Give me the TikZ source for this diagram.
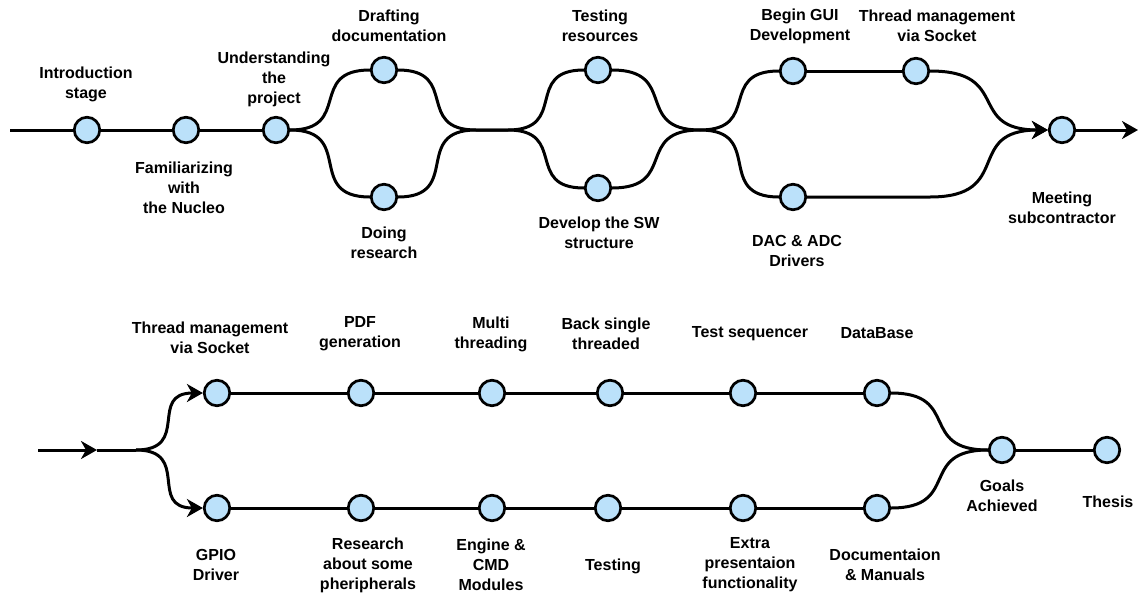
\documentclass[tikz,border=0pt]{standalone}
\usepackage{fontspec}
\setmainfont{Liberation Sans}
\usetikzlibrary{arrows.meta}
\definecolor{stagefill}{RGB}{187,225,250}
\begin{document}
\begin{tikzpicture}[x=1pt,y=-1pt,
  stage/.style={circle,draw=black,line width=2.7pt,fill=stagefill,minimum size=25.5pt,inner sep=0pt},
  lbl/.style={align=center,font=\bfseries\fontsize{16}{20}\selectfont,inner sep=0pt},
  flow/.style={line width=3pt},
  scurve/.style={out=0,in=180,looseness=1.6},
  tip/.style={-{Stealth[length=16pt,width=18pt,inset=5pt]}}
]
\useasboundingbox (0,0) rectangle (1142,597);

% ---------- first phase ----------
\node[stage] (intro)   at (87,130) {};
\node[stage] (fam)     at (186,130) {};
\node[stage] (und)     at (276,130) {};
\node[stage] (draft)   at (384,70) {};
\node[stage] (doing)   at (384,197) {};
\node[stage] (testres) at (598,70) {};
\node[stage] (devsw)   at (598,188) {};
\node[stage] (gui)     at (793,71) {};
\node[stage] (thr)     at (916,71) {};
\node[stage] (dac)     at (793,197) {};
\node[stage] (meet)    at (1062,130) {};
\coordinate (in1)  at (10,130);
\coordinate (out1) at (1138,130);
\coordinate (j1a)  at (476,130);
\coordinate (j1b)  at (508,130);
\coordinate (j2)   at (700,130);
\coordinate (j3)   at (930,197);

\draw[flow] (in1) -- (intro);
\draw[flow] (intro) -- (fam);
\draw[flow] (fam) -- (und);
\draw[flow] (und.east) to[scurve] (draft.west);
\draw[flow] (und.east) to[scurve] (doing.west);
\draw[flow] (draft.east) to[scurve] (j1a) -- (j1b) to[scurve] (testres.west);
\draw[flow] (doing.east) to[scurve] (j1a) -- (j1b) to[scurve] (devsw.west);
\draw[flow] (testres.east) to[scurve] (j2) to[scurve] (gui.west);
\draw[flow] (devsw.east) to[scurve] (j2) to[scurve] (dac.west);
\draw[flow] (gui) -- (thr);
\draw[flow,tip] (thr.east) to[scurve] (meet.west);
\draw[flow,tip] (dac.east) -- (j3) to[scurve] (meet.west);
\draw[flow,tip] (meet) -- (out1);

\node[lbl] (intro-t)   at (86,84)   {Introduction\\stage};
\node[lbl] (fam-t)     at (184,188) {Familiarizing\\with\\the Nucleo};
\node[lbl] (und-t)     at (274,79)  {Understanding\\the\\project};
\node[lbl] (draft-t)   at (389,26)  {Drafting\\documentation};
\node[lbl] (doing-t)   at (384,243) {Doing\\research};
\node[lbl] (testres-t) at (600,26)  {Testing\\resources};
\node[lbl] (devsw-t)   at (599,233) {Develop the SW\\structure};
\node[lbl] (gui-t)     at (800,26)  {Begin GUI\\Development};
\node[lbl] (thr-t)     at (937,26)  {Thread management\\via Socket};
\node[lbl] (dac-t)     at (797,251) {DAC \& ADC\\Drivers};
\node[lbl] (meet-t)    at (1062,208) {Meeting\\subcontractor};

% ---------- second phase ----------
\node[stage] (thr2)   at (217,393) {};
\node[stage] (pdf)    at (361,393) {};
\node[stage] (multi)  at (492,393) {};
\node[stage] (back)   at (610,393) {};
\node[stage] (seq)    at (743,393) {};
\node[stage] (db)     at (877,393) {};
\node[stage] (gpio)   at (217,508) {};
\node[stage] (res)    at (361,508) {};
\node[stage] (eng)    at (492,508) {};
\node[stage] (tst)    at (608,508) {};
\node[stage] (extra)  at (743,508) {};
\node[stage] (docs)   at (877,508) {};
\node[stage] (goals)  at (1002,450) {};
\node[stage] (thesis) at (1107,450) {};
\coordinate (in2)   at (38,450);
\coordinate (split) at (97,450);
\coordinate (fork)  at (136,450);

\draw[flow,tip] (in2) -- (split);
\draw[flow] (split) -- (fork);
\draw[flow,tip] (fork) to[scurve] (thr2.west);
\draw[flow,tip] (fork) to[scurve] (gpio.west);
\draw[flow] (thr2) -- (pdf) -- (multi) -- (back) -- (seq) -- (db);
\draw[flow] (gpio) -- (res) -- (eng) -- (tst) -- (extra) -- (docs);
\draw[flow] (db.east) to[scurve] (goals.west);
\draw[flow] (docs.east) to[scurve] (goals.west);
\draw[flow] (goals) -- (thesis);

\node[lbl] (thr2-t)   at (210,338) {Thread management\\via Socket};
\node[lbl] (pdf-t)    at (360,334) {PDF\\generation};
\node[lbl] (multi-t)  at (491,334) {Multi\\threading};
\node[lbl] (back-t)   at (606,334) {Back single\\threaded};
\node[lbl] (seq-t)    at (750,334) {Test sequencer};
\node[lbl] (db-t)     at (877,333) {DataBase};
\node[lbl] (gpio-t)   at (216,565) {GPIO\\Driver};
\node[lbl] (res-t)    at (368,565) {Research\\about some\\pheripherals};
\node[lbl] (eng-t)    at (491,565) {Engine \&\\CMD\\Modules};
\node[lbl] (tst-t)    at (613,566) {Testing};
\node[lbl] (extra-t)  at (750,565) {Extra\\presentaion\\functionality};
\node[lbl] (docs-t)   at (885,565) {Documentaion\\\& Manuals};
\node[lbl] (goals-t)  at (1002,496) {Goals\\Achieved};
\node[lbl] (thesis-t) at (1108,502) {Thesis};
\end{tikzpicture}
\end{document}
